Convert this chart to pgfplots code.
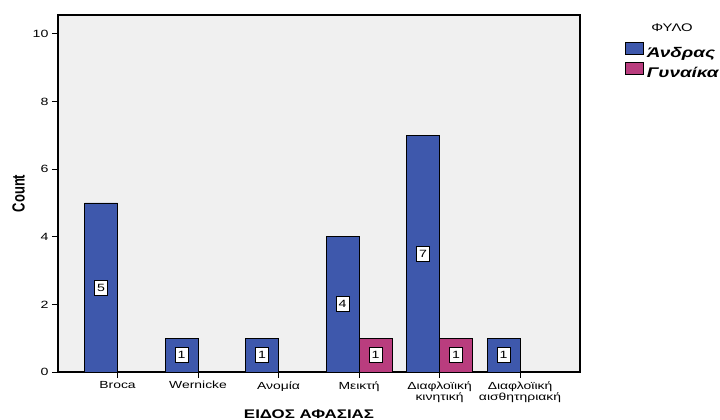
\documentclass[border=0pt]{standalone}
\usepackage{fontspec}
\setmainfont{Liberation Sans}[FakeStretch=1.35]
\newfontfamily\plainsf{Liberation Sans}
\usepackage{graphicx}
\usepackage{pgfplots}
\usepackage{pgfplotstable}
\pgfplotsset{compat=1.18}

\definecolor{bggray}{HTML}{F0F0F0}
\definecolor{sblue}{HTML}{3E58AC}
\definecolor{spink}{HTML}{B93D7E}

\tikzset{value box/.style={draw=black, fill=white, line width=0.9bp, inner sep=0pt,
    minimum width=13bp, minimum height=15bp, anchor=center,
    font=\fontsize{10.5bp}{11bp}\selectfont}}

% counts per aphasia type (x = category index)
\pgfplotstableread{
x y
0 5
1 1
2 1
3 4
4 7
5 1
}\andras
\pgfplotstableread{
x y
3 1
4 1
}\gynaika

\begin{document}
\begin{tikzpicture}
\begin{axis}[
  name=ax,
  scale only axis,
  width=522bp, height=357bp,
  xmin=-0.74, xmax=5.745,
  ymin=0, ymax=10.56,
  axis background/.style={fill=bggray},
  axis line style={line width=1.4bp, black},
  tick pos=left,
  tick align=outside,
  major tick length=6bp,
  tick style={line width=1bp, black},
  xtick={0,...,5},
  xticklabels={Broca, Wernicke, Ανομία, Μεικτή, {Διαφλοϊική\\κινητική}, {Διαφλοϊική\\αισθητηριακή}},
  xticklabel style={align=center, font=\fontsize{10.3bp}{11bp}\selectfont},
  ytick={0,2,...,10},
  yticklabel style={font=\fontsize{10.5bp}{11bp}\selectfont},
  /pgf/number format/assume math mode=true,
  legend cell align=left,
  legend image code/.code={\draw[#1, line width=0.8bp] (0bp,-1bp) rectangle (18bp,11bp);},
  legend style={draw=none, fill=none, inner sep=0pt, outer sep=0pt,
    at={(axis description cs:1.0862,0.923)}, anchor=north west,
    column sep=3bp, row sep=1bp,
    nodes={inner sep=0pt, text height=11bp, text depth=4bp},
    font=\fontsize{14bp}{16bp}\selectfont\bfseries\itshape},
]
\addplot[ybar, bar width=0.41, bar shift=-0.205, fill=sblue, draw=black, line width=0.8bp]
  table[x=x, y=y]{\andras};
\addplot[ybar, bar width=0.41, bar shift=0.205, fill=spink, draw=black, line width=0.8bp]
  table[x=x, y=y]{\gynaika};
\legend{Άνδρας, Γυναίκα}

% value labels in the middle of each bar
\addplot[forget plot, draw=none, mark=none, point meta=explicit,
  nodes near coords, nodes near coords style={value box}]
  table[x expr=\thisrow{x}-0.205, y expr=\thisrow{y}/2, meta=y]{\andras};
\addplot[forget plot, draw=none, mark=none, point meta=explicit,
  nodes near coords, nodes near coords style={value box}]
  table[x expr=\thisrow{x}+0.205, y expr=\thisrow{y}/2, meta=y]{\gynaika};
\end{axis}

\node[anchor=base, font=\fontsize{12.5bp}{14bp}\selectfont\bfseries]
  at ([shift={(251bp,-46bp)}]ax.south west) {ΕΙΔΟΣ ΑΦΑΣΙΑΣ};
\node[anchor=center, inner sep=0pt]
  at ([shift={(-39.5bp,178.5bp)}]ax.south west)
  {\scalebox{1.35}[1]{\rotatebox{90}{\plainsf\fontsize{13bp}{14bp}\selectfont\bfseries Count}}};
\node[anchor=base, font=\fontsize{11bp}{12bp}\selectfont]
  at ([shift={(614bp,340bp)}]ax.south west) {ΦΥΛΟ};

\pgfresetboundingbox
\path[use as bounding box] ([shift={(-58bp,-48bp)}]ax.south west)
  rectangle ([shift={(140bp,15bp)}]ax.north east);
\end{tikzpicture}
\end{document}
